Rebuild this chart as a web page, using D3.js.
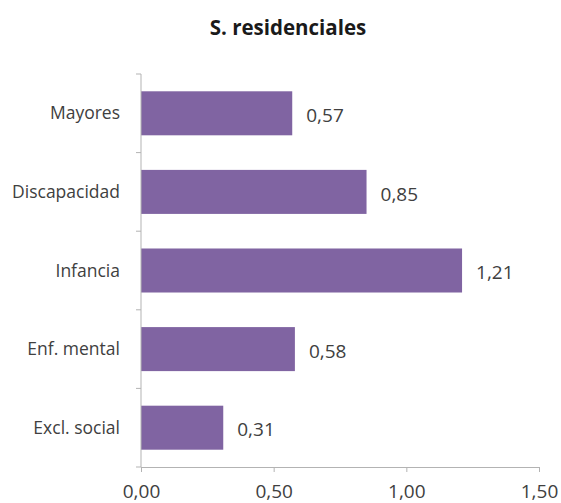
<!DOCTYPE html>
<html>
<head>
<meta charset="utf-8">
<script src="https://cdn.jsdelivr.net/npm/d3@7/dist/d3.min.js"></script>
<style>
  html, body { margin: 0; padding: 0; background: #fff; }
  svg { display: block; }
</style>
</head>
<body>
<svg id="chart" width="561" height="503"></svg>
<script>
// Servicios residenciales por colectivo
const categories = ["Mayores", "Discapacidad", "Infancia", "Enf. mental", "Excl. social"];
const values = [0.57, 0.85, 1.21, 0.58, 0.31];
const xTicks = [0, 0.5, 1.0, 1.5];
const title = "S. residenciales";

const W = 561, H = 503;
const margin = { left: 141, right: 22, top: 74, bottom: 36 };
const svg = d3.select("#chart");
const fmt = v => d3.format(".2f")(v).replace(".", ",");
const font = "'Open Sans', 'Liberation Sans', sans-serif";
const textColor = "#404040";
const axisColor = "#b3b3b3";

const x = d3.scaleLinear().domain([0, 1.5]).range([margin.left, W - margin.right]);
const y = d3.scaleBand().domain(categories).range([margin.top, H - margin.bottom]).paddingInner(0.44).paddingOuter(0.22);
const yOuter = d3.scaleBand().domain(categories).range([margin.top, H - margin.bottom]);

// Title
svg.append("text")
  .attr("x", 288).attr("y", 35)
  .attr("text-anchor", "middle")
  .style("font-family", font).style("font-weight", "bold").style("font-size", "20.5px")
  .style("fill", "#1a1a1a")
  .text(title);

// Bars
svg.append("g").selectAll("rect").data(values).join("rect")
  .attr("x", x(0))
  .attr("y", (d, i) => y(categories[i]))
  .attr("width", d => x(d) - x(0))
  .attr("height", y.bandwidth())
  .attr("fill", "#8064a2");

// Value labels
svg.append("g").selectAll("text").data(values).join("text")
  .attr("x", d => x(d) + 14)
  .attr("y", (d, i) => y(categories[i]) + y.bandwidth() / 2 + 2)
  .attr("dy", "0.35em")
  .style("font-family", font).style("font-size", "19px").style("fill", textColor)
  .text(d => fmt(d));

// Vertical category axis
const yAxis = svg.append("g").attr("transform", `translate(${x(0)},0)`);
yAxis.append("line").attr("y1", margin.top).attr("y2", H - margin.bottom).attr("stroke", axisColor);
const bounds = categories.map(c => yOuter(c)).concat([H - margin.bottom]);
yAxis.selectAll("line.tick").data(bounds).join("line").attr("class", "tick")
  .attr("x1", -5).attr("x2", 0).attr("y1", d => d).attr("y2", d => d).attr("stroke", axisColor);
yAxis.selectAll("text").data(categories).join("text")
  .attr("x", -21)
  .attr("y", c => yOuter(c) + yOuter.bandwidth() / 2)
  .attr("dy", "0.35em")
  .attr("text-anchor", "end")
  .style("font-family", font).style("font-size", "17.5px").style("fill", textColor)
  .text(c => c);

// Horizontal value axis
const xAxis = svg.append("g").attr("transform", `translate(0,${H - margin.bottom})`)
  .call(d3.axisBottom(x).tickValues(xTicks).tickFormat(fmt).tickSizeInner(5).tickSizeOuter(0).tickPadding(13));
xAxis.select(".domain").attr("stroke", axisColor);
xAxis.selectAll(".tick line").attr("stroke", axisColor);
xAxis.selectAll(".tick text")
  .style("font-family", font).style("font-size", "19px").style("fill", textColor);
</script>
</body>
</html>
